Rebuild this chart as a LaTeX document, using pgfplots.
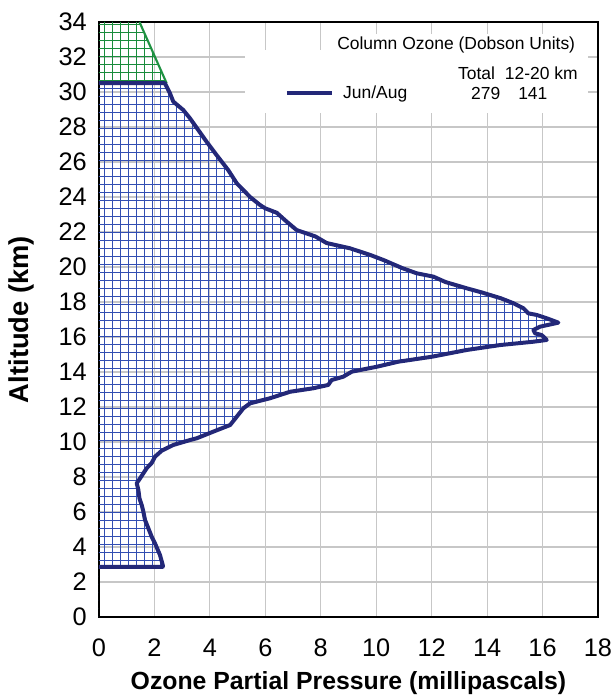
\documentclass[border=0pt]{standalone}
\usepackage{pgfplots}
\pgfplotsset{compat=1.18}
\usepackage{pgfplotstable}
\usepackage{fontspec}
\setmainfont{Liberation Sans}
\usetikzlibrary{patterns.meta}
\definecolor{navy}{RGB}{35,40,120}
\definecolor{hatchblue}{RGB}{50,78,178}
\definecolor{hatchgreen}{RGB}{25,140,60}
\definecolor{linegreen}{RGB}{30,145,65}

\pgfplotstableread{
x y
0 2.87
2.30 2.87
2.30 2.97
2.20 3.54
2.02 4.21
1.90 4.59
1.78 5.07
1.66 5.54
1.60 6.02
1.54 6.40
1.46 6.78
1.42 7.26
1.36 7.64
1.48 7.92
1.60 8.21
1.72 8.50
1.90 8.80
2.02 9.16
2.26 9.50
2.68 9.83
3.28 10.11
3.52 10.21
4.12 10.59
4.73 10.97
4.97 11.45
5.21 11.93
5.45 12.21
6.17 12.50
6.89 12.87
7.73 13.07
8.27 13.26
8.39 13.54
8.81 13.73
9.12 14.02
10.02 14.30
10.80 14.59
12.00 14.87
13.27 15.26
14.47 15.54
15.67 15.73
16.15 15.83
15.97 16.11
15.73 16.21
15.67 16.40
15.91 16.59
16.57 16.82
16.15 17.07
15.79 17.26
15.49 17.35
15.31 17.64
14.95 17.93
14.50 18.21
13.80 18.55
13.27 18.78
12.50 19.14
12.06 19.45
11.46 19.64
10.95 19.93
10.26 20.40
9.78 20.69
9.05 21.07
8.21 21.37
7.80 21.75
7.13 22.11
6.77 22.59
6.41 23.10
6.00 23.35
5.81 23.54
5.45 24.00
4.97 24.78
4.66 25.54
4.24 26.40
3.88 27.16
3.58 27.83
3.28 28.50
3.04 28.97
2.68 29.45
2.56 29.92
2.38 30.50
0 30.50
}\profile

\pgfplotstableread{
x y
0 30.50
2.44 30.50
1.46 34.00
0 34.00
}\topregion

\pgfplotstableread{
x y
2.44 30.50
1.46 34.00
}\topline

\begin{document}
\begin{tikzpicture}
\path[use as bounding box] (-74.25pt,-59.25pt) rectangle (385.5pt,462.75pt);
\begin{axis}[
  at={(0,0)}, anchor=south west,
  scale only axis, width=374.25pt, height=446.25pt,
  xmin=0, xmax=18, ymin=0, ymax=34,
  xtick={0,2,...,18}, ytick={0,2,...,34},
  grid=major,
  major grid style={draw=black!22, line width=0.9pt},
  major tick length=0pt,
  axis line style={line width=1.5pt},
  /pgf/number format/assume math mode=true,
  tick label style={font=\fontsize{19}{22}\selectfont},
  xticklabel style={anchor=north, inner sep=0pt, yshift=-16.5pt},
  yticklabel style={anchor=east, inner sep=0pt, xshift=-9pt},
  xlabel={Ozone Partial Pressure (millipascals)},
  ylabel={Altitude (km)},
  xlabel style={at={(rel axis cs:0.5,0)}, anchor=center, yshift=-49.5pt, font=\bfseries\fontsize{18.6}{22}\selectfont},
  ylabel style={at={(rel axis cs:0,0.5)}, anchor=center, yshift=58.5pt, font=\bfseries\fontsize{20.5}{24}\selectfont},
]
% white legend background
\fill[white] (axis cs:5.27,28.8) rectangle (axis cs:17.65,32.4);
% fills
\addplot[draw=none, pattern={Hatch[angle=0, distance=6pt, line width=0.65pt]}, pattern color=hatchblue] table[x=x,y=y] {\profile} \closedcycle;
\addplot[draw=none, pattern={Hatch[angle=0, distance=6pt, line width=0.65pt]}, pattern color=hatchgreen] table[x=x,y=y] {\topregion} -- cycle;
\addplot[linegreen, line width=1.6pt] table[x=x,y=y] {\topline};
\addplot[navy, line width=3pt, line join=round] table[x=x,y=y] {\profile};
% legend
\node[fill=white, inner sep=2pt, anchor=east, font=\fontsize{13.1}{15}\selectfont] at (axis cs:17.28,32.69) {Column Ozone (Dobson Units)};
\node[inner sep=0pt, anchor=east, font=\fontsize{13.1}{15}\selectfont] at (axis cs:17.28,31.06) {Total\hspace{7.5pt}12-20 km};
\draw[navy, line width=3pt] (axis cs:6.78,29.94) -- (axis cs:8.41,29.94);
\node[inner sep=0pt, anchor=west, font=\fontsize{13.1}{15}\selectfont] at (axis cs:8.80,29.9) {Jun/Aug};
\node[inner sep=0pt, anchor=center, font=\fontsize{13.1}{15}\selectfont] at (axis cs:13.95,29.9) {279};
\node[inner sep=0pt, anchor=center, font=\fontsize{13.1}{15}\selectfont] at (axis cs:15.65,29.9) {141};
\end{axis}
\end{tikzpicture}
\end{document}
